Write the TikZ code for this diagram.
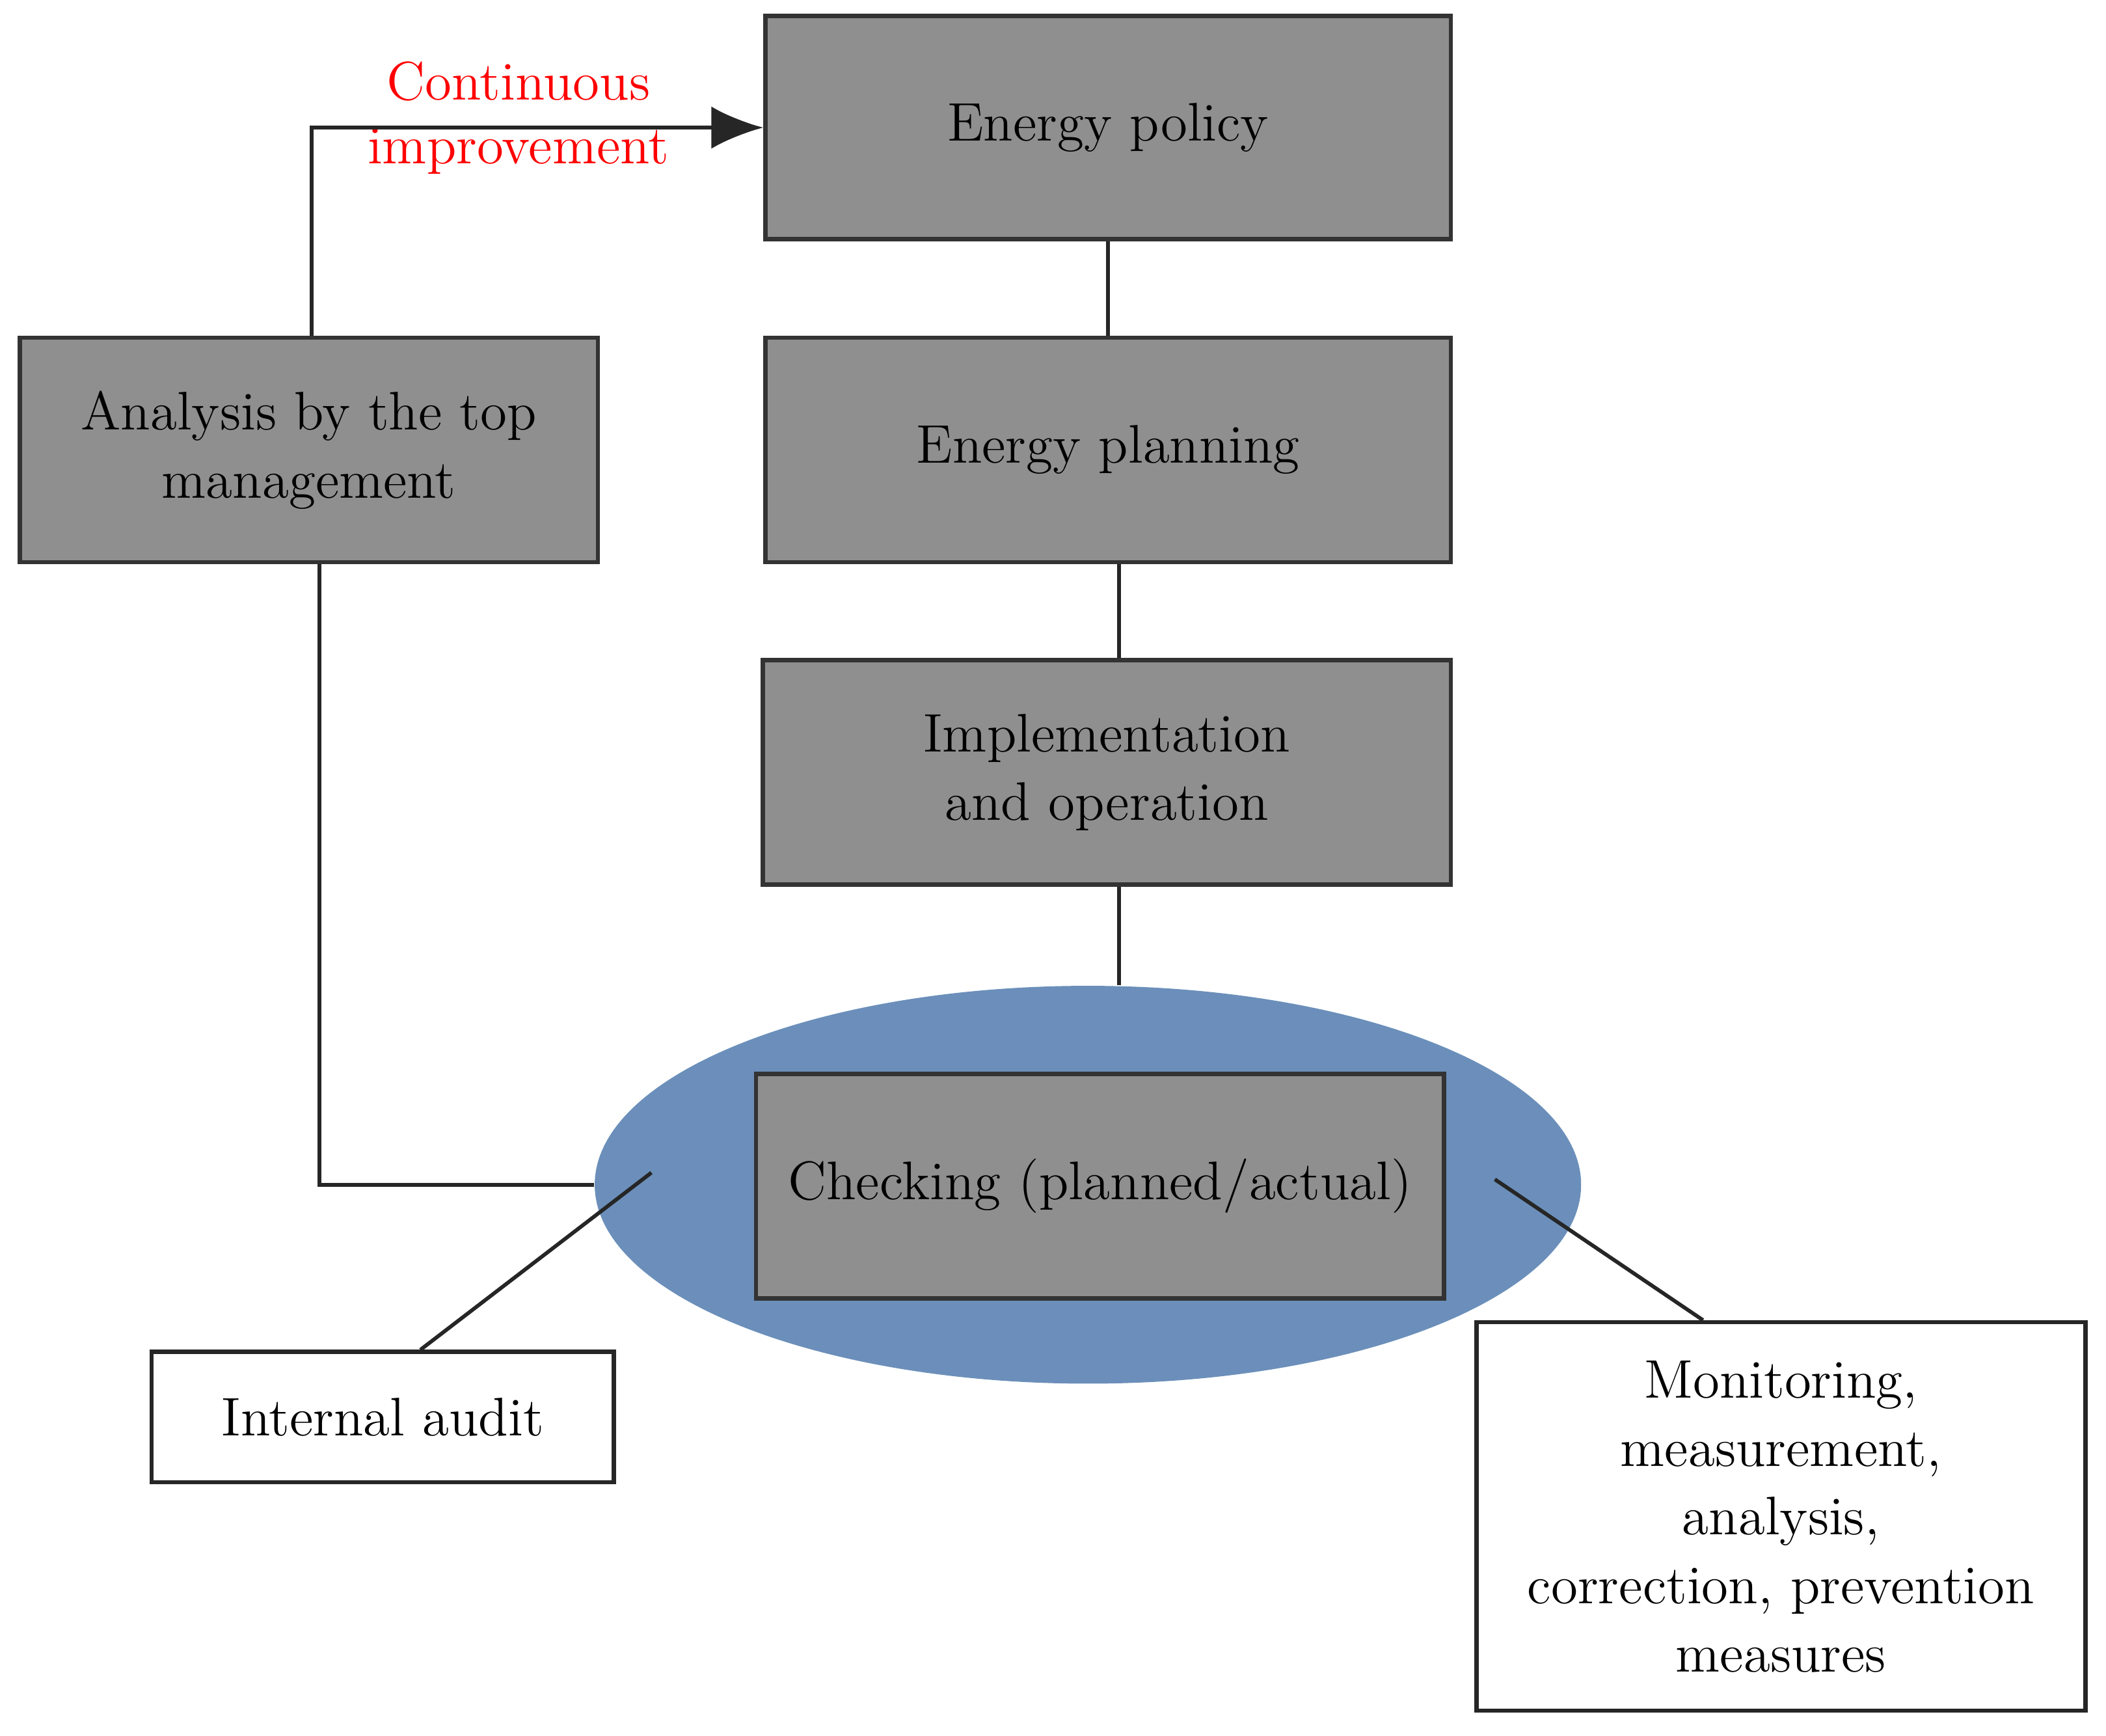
\documentclass[tikz,border=0pt]{standalone}
\usetikzlibrary{shapes.geometric,arrows.meta}
\definecolor{boxgray}{HTML}{8F8F8F}
\definecolor{ellblue}{HTML}{6B8FBA}
\begin{document}
\begin{tikzpicture}[x=0.01cm,y=-0.01cm,
  gbox/.style={draw=black!80,line width=0.9pt,fill=boxgray,align=center,font=\fontsize{11.5}{14.5}\selectfont,inner sep=0pt},
  wbox/.style={draw=black!85,line width=0.9pt,fill=white,align=center,font=\fontsize{11.5}{14.5}\selectfont,inner sep=0pt},
  conn/.style={line width=0.8pt,black!85}]
\useasboundingbox (0,0) rectangle (1568,1292);
\node[ellipse,fill=ellblue,minimum width=7.34cm,minimum height=2.96cm,inner sep=0pt] (ell) at (810,882) {};
\node[gbox,minimum width=5.10cm,minimum height=1.66cm] (pol) at (825,95) {Energy policy};
\node[gbox,minimum width=5.10cm,minimum height=1.67cm] (pla) at (825,335) {Energy planning};
\node[gbox,minimum width=5.12cm,minimum height=1.67cm] (imp) at (824,575) {Implementation\\and operation};
\node[gbox,minimum width=4.30cm,minimum height=1.67cm] (ana) at (230,335) {Analysis by the top\\management};
\node[gbox,minimum width=5.12cm,minimum height=1.67cm] (chk) at (819,883) {Checking (planned/actual)};
\node[wbox,minimum width=3.44cm,minimum height=0.97cm] (aud) at (285,1055) {Internal audit};
\node[wbox,minimum width=4.53cm,minimum height=2.89cm] (mon) at (1326,1129) {Monitoring,\\measurement,\\analysis,\\correction, prevention\\measures};
\node[text=red,align=center,font=\fontsize{11.5}{13.5}\selectfont] (ci) at (386,88) {Continuous\\improvement};
\coordinate (a1) at (232,95);
\coordinate (a2) at (238,882);
\coordinate (v1) at (825,0);
\coordinate (v2) at (833,0);
\coordinate (p1) at (485,873);
\coordinate (p2) at (1113,878);
\coordinate (q1) at (313,0);
\coordinate (q2) at (1268,0);
\draw[conn] (pol.south -| v1) -- (pla.north -| v1);
\draw[conn] (pla.south -| v2) -- (imp.north -| v2);
\draw[conn] (imp.south -| v2) -- (ell.north -| v2);
\draw[conn,-{Latex[length=11pt,width=9pt]}] (ana.north -| a1) -- (a1) -- (pol.west |- a1);
\draw[conn] (ana.south -| a2) -- (a2) -- (ell.west |- a2);
\draw[conn] (p1) -- (aud.north -| q1);
\draw[conn] (p2) -- (mon.north -| q2);
\end{tikzpicture}
\end{document}
